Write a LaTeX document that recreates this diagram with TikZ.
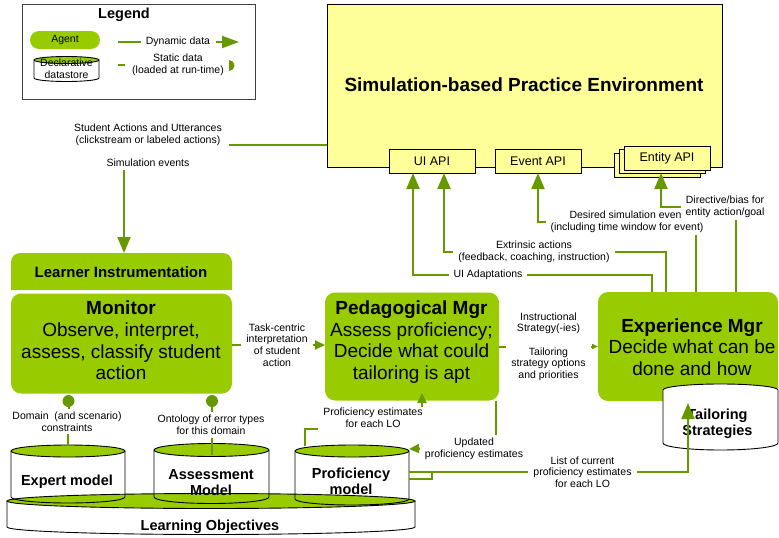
\documentclass[tikz,border=0pt]{standalone}
\usepackage{fontspec}
\setmainfont{Liberation Sans}
\usetikzlibrary{arrows.meta,calc}

\definecolor{agentgreen}{HTML}{99CC00}
\definecolor{flowgreen}{HTML}{669900}
\definecolor{simyellow}{HTML}{FFFF99}

\tikzset{
  every node/.style={inner sep=0pt, outer sep=0pt},
  lbl/.style={font=\fontsize{10.5}{11.6}\selectfont, align=center, inner xsep=5pt, inner ysep=3pt},
  agentbox/.style={fill=agentgreen, rounded corners=10pt},
  pill/.style={fill=agentgreen, rounded corners=9pt},
  bigtxt/.style={font=\fontsize{19}{21.6}\selectfont, align=center},
  cyltxt/.style={font=\fontsize{14.5}{16.5}\selectfont\bfseries, align=center},
  apibox/.style={draw=black, line width=0.9pt, fill=simyellow, minimum width=86pt,
                 minimum height=24pt, font=\fontsize{12.5}{14}\selectfont},
  flow/.style={draw=flowgreen, line width=2pt},
  bigarrow/.style={flow, -{Triangle[length=16pt,width=13pt]}},
  midarrow/.style={flow, -{Triangle[length=10pt,width=9pt]}},
  smallarrow/.style={flow, -{Triangle[length=6pt,width=5pt]}},
  cylline/.style={draw=black, line width=0.9pt},
}

% datastore drum: left x, right x, top y, bottom y, half height of the ellipses, body fill
\newcommand\drawdatacyl[6]{%
  \pgfmathsetmacro\cylrx{(#2-#1)/2}%
  \pgfmathsetmacro\cylcx{(#2+#1)/2}%
  \path[cylline, fill=#6] (#1,#3) -- (#1,#4)
     arc[start angle=180, end angle=360, x radius=\cylrx pt, y radius=#5pt] -- (#2,#3);
  \path[cylline, fill=agentgreen] (\cylcx,#3) ellipse[x radius=\cylrx pt, y radius=#5pt];
}

\begin{document}
\begin{tikzpicture}[x=1pt,y=-1pt]
\useasboundingbox (0,0) rectangle (779,538);

% ---------------- legend
\node[draw=black!75, line width=0.9pt, minimum width=233pt, minimum height=95pt] (legend) at (138.5,51.5) {};
\node[font=\fontsize{14.5}{16}\selectfont\bfseries] (legendtitle) at (124,15) {Legend};
\node[pill, minimum width=70pt, minimum height=18pt, font=\fontsize{10.5}{12}\selectfont] (legagent) at (65,40) {Agent};
\drawdatacyl{34}{99}{60}{78}{3.5}{white}
\node[lbl] (legstore) at (66.5,69) {Declarative\\datastore};
\coordinate (dynA) at (118,42); \coordinate (dynB) at (141,42);
\draw[flow] (dynA) -- (dynB);
\node[lbl] (legdyn) at (178,42) {Dynamic data};
\coordinate (dynC) at (216,42); \coordinate (dynD) at (239,42);
\draw[flow, -{Triangle[length=17pt,width=12pt]}] (dynC) -- (dynD);
\coordinate (statA) at (118,65); \coordinate (statB) at (125,65);
\draw[flow] (statA) -- (statB);
\node[lbl] (legstat) at (178,65) {Static data\\(loaded at run-time)};
\coordinate (statD) at (229,60);
\fill[flowgreen] (statD) arc[start angle=90, end angle=-90, radius=5.5pt] -- cycle;

% ---------------- simulation environment
\node[draw=black, line width=0.9pt, fill=simyellow, minimum width=395pt, minimum height=163pt] (sim) at (524.5,85.5) {};
\node[font=\fontsize{19}{22}\selectfont\bfseries] (simtitle) at (524,85) {Simulation-based Practice Environment};
\node[apibox] (uiapi) at (432,161) {UI API};
\node[apibox] (eventapi) at (538,161) {Event API};
\node[apibox] (entityA) at (657,165) {};
\node[apibox] (entityB) at (662,161) {};
\node[apibox] (entity) at (667,158) {Entity API};

% ---------------- datastores
\drawdatacyl{7}{415}{501}{527}{7.5}{white}
\drawdatacyl{11}{125}{451}{497}{6}{none}
\drawdatacyl{154}{269}{450}{497}{6.5}{none}
\drawdatacyl{295}{409}{451}{499}{6}{none}
\node[cyltxt] (lo) at (210,527) {Learning Objectives};
\node[cyltxt] (expert) at (67,482) {Expert model};
\node[cyltxt] (assess) at (211,482.5) {Assessment\\Model};
\node[cyltxt] (prof) at (351,481.5) {Proficiency\\model};

% ---------------- agents
\node[pill, minimum width=221pt, minimum height=37pt] (li) at (121.5,271.5) {};
\fill[agentgreen] (li.west) rectangle (li.south east);
\node[font=\fontsize{15}{17}\selectfont\bfseries] (lilabel) at (121,272) {Learner Instrumentation};
\node[agentbox, minimum width=221pt, minimum height=100pt] (monitor) at (121.5,343.5) {};
\node[bigtxt] (monitorlabel) at (121,340.5) {\textbf{Monitor}\\Observe, interpret,\\assess, classify student\\action};
\node[agentbox, minimum width=174pt, minimum height=108pt] (ped) at (412,346.5) {};
\node[bigtxt] (pedlabel) at (411.5,342) {\textbf{Pedagogical Mgr}\\Assess proficiency;\\Decide what could\\tailoring is apt};
\node[agentbox, minimum width=180pt, minimum height=109pt] (exp) at (688,346.5) {};
\node[bigtxt] (explabel) at (692,347) {\textbf{Experience Mgr}\\Decide what can be\\done and how};
\path[cylline, fill=white] (663,390) arc[start angle=180, end angle=0, x radius=57.5pt, y radius=6pt]
   -- (778,443) arc[start angle=0, end angle=-180, x radius=57.5pt, y radius=7pt] -- cycle;
\node[cyltxt] (tailor) at (717.5,424) {Tailoring\\Strategies};

% ---------------- connector labels
\node[lbl] (studact) at (148,135) {Student Actions and Utterances\\(clickstream or labeled actions)};
\node[lbl] (simev) at (148,163) {Simulation events};
\node[lbl] (taskc) at (277,345) {Task-centric\\interpretation\\of student\\action};
\node[lbl] (instr) at (548.5,346.5) {Instructional\\Strategy(-ies)\\[11.6pt]Tailoring\\strategy options\\and priorities};
\node[lbl] (domain) at (67,421.5) {Domain\ \ (and scenario)\\constraints};
\node[lbl] (onto) at (211,425) {Ontology of error types\\for this domain};
\node[lbl, inner ysep=1.5pt] (profest) at (373,418) {Proficiency estimates\\for each LO};
\node[lbl] (upd) at (474,448.5) {Updated\\proficiency estimates};
\node[lbl] (lst) at (582.5,472) {List of current\\proficiency estimates\\for each LO};
\node[lbl] (uiad) at (488,275) {UI Adaptations};
\node[lbl] (ext) at (534,251.5) {Extrinsic actions\\(feedback, coaching, instruction)};
\node[lbl] (des) at (627,221.5) {Desired simulation event\\(including time window for event)};
\node[lbl, fill=white] (dir) at (725,206.5) {Directive/bias for\\entity action/goal};

% ---------------- dynamic data flows
\coordinate (studend) at (229,145);
\draw[flow] (sim.west |- studend) -- (studend);
\draw[bigarrow] (124,0 |- simev.south) -- (124,0 |- li.north);
\draw[flow] (monitor.east |- taskc.west) -- (taskc.west);
\draw[midarrow] (taskc.east) -- (ped.west |- taskc.east);
\draw[flow] (ped.east |- instr.west) -- (instr.west);
\draw[smallarrow] (instr.east) -- (exp.west |- instr.east);

\coordinate (proftopR) at (409,449);
\draw[flow] (496,0 |- ped.south) -- (496,0 |- upd.north);
\draw[midarrow] (upd.west) -- (proftopR);

\coordinate (proftopL) at (305,446);
\coordinate (pedin) at (422,393);
\draw[flow] (proftopL) |- (profest.south west);
\draw[midarrow] (422,0 |- profest.north) -- (pedin);

\coordinate (profR) at (409,472);
\coordinate (profR2) at (409,479);
\coordinate (tailin) at (688,403);
\draw[flow] (profR) -- (lst.west);
\draw[flow] (profR2) -| (432,472);
\draw[bigarrow] (lst.east) -| (tailin);

\draw[flow] (652,0 |- exp.north) |- (uiad.east);
\draw[bigarrow] (uiad.west) -| (413,0 |- uiapi.south);
\draw[flow] (666,0 |- exp.north) |- (ext.east);
\draw[bigarrow] (ext.west) -| (444,0 |- uiapi.south);
\draw[flow] (696,0 |- exp.north) -- (696,0 |- des.south);
\draw[bigarrow] (des.west) -| (538,0 |- eventapi.south);
\draw[flow] (736,0 |- exp.north) -- (736,0 |- dir.south);
\draw[bigarrow] (dir.west) -| (661,0 |- entityB.south);

% ---------------- static data links
\coordinate (domdot) at (68.5,401);
\coordinate (ontodot) at (212,401);
\coordinate (experttop) at (68,446);
\coordinate (assesstop) at (212,455);
\draw[flow] (experttop) -- (68,0 |- domain.south);
\draw[flow] (domdot) -- (68.5,0 |- domain.north);
\draw[flow] (assesstop) -- (212,0 |- onto.south);
\draw[flow] (ontodot) -- (212,0 |- onto.north);
\fill[flowgreen] (domdot) circle[radius=6pt];
\fill[flowgreen] (ontodot) circle[radius=6pt];
\end{tikzpicture}
\end{document}
